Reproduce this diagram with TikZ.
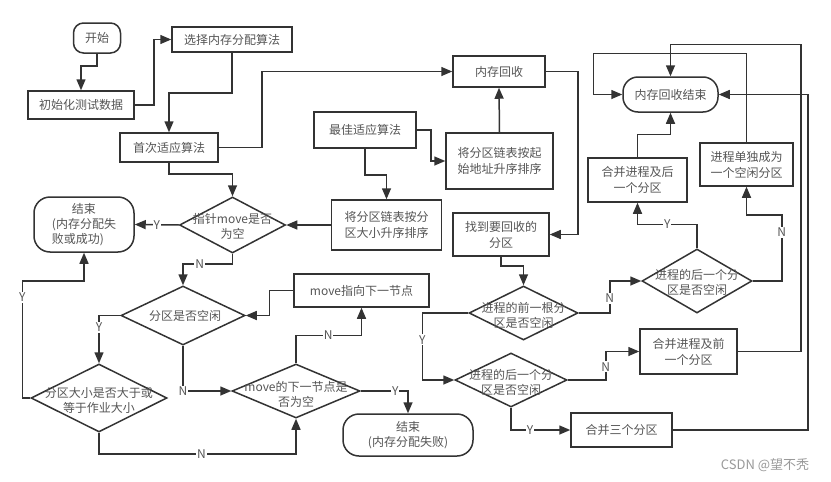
\documentclass[tikz,border=0pt]{standalone}
\usepackage{fontspec}
\setmainfont{Noto Sans CJK SC}
\usetikzlibrary{shapes.geometric,arrows.meta}
\definecolor{ln}{HTML}{333333}
\definecolor{tx}{HTML}{555555}
\begin{document}
\begin{tikzpicture}[x=1pt,y=-1pt,
  every node/.style={font=\fontsize{12}{16}\selectfont, text=tx},
  box/.style n args={2}{draw=ln,line width=1.5pt,rectangle,minimum width=#1pt,minimum height=#2pt,align=center,inner sep=1pt},
  rbox/.style n args={3}{draw=ln,line width=1.5pt,rectangle,rounded corners=#3pt,minimum width=#1pt,minimum height=#2pt,align=center,inner sep=1pt},
  dia/.style n args={2}{draw=ln,line width=1.5pt,diamond,minimum width=#1pt,minimum height=#2pt,inner sep=0pt},
  dtext/.style={align=center,inner sep=0pt,font=\fontsize{12}{15}\selectfont},
  arr/.style={draw=ln,line width=1.5pt,-{Triangle[length=11pt,width=9pt]}},
  lab/.style={fill=white,inner sep=1pt,text=tx}]
\fill[white] (0,0) rectangle (831,482);
\useasboundingbox (0,0) rectangle (831,482);

% boxes
\node[rbox={47}{30}{10}] (start) at (97,38) {开始};
\node[box={106}{28}] (init) at (81,105) {初始化测试数据};
\node[box={120}{25}] (select) at (232,39.5) {选择内存分配算法};
\node[box={98}{29}] (ff) at (169,147.5) {首次适应算法};
\node[box={102}{36}] (bf) at (365,130) {最佳适应算法};
\node[box={107}{56}] (sortaddr) at (499.5,161) {将分区链表按起\\始地址升序排序};
\node[box={110}{50}] (sortsize) at (386.5,225) {将分区链表按分\\区大小升序排序};
\node[box={92}{31}] (recl) at (499,71.5) {内存回收};
\node[box={96}{43}] (find) at (501,234.5) {找到要回收的\\分区};
\node[rbox={95}{35}{15}] (recend) at (670.5,94.5) {内存回收结束};
\node[box={99}{44}] (mergenext) at (637.5,180) {合并进程及后\\一个分区};
\node[box={93}{43}] (alone) at (746.5,164.5) {进程单独成为\\一个空闲分区};
\node[box={97}{45}] (mergeprev) at (688.5,351.5) {合并进程及前\\一个分区};
\node[box={101}{34}] (merge3) at (621.5,430) {合并三个分区};
\node[rbox={100}{55}{16}, font=\fontsize{12}{15}\selectfont] (end1) at (84,224.5) {结束\\(内存分配失\\败或成功)\hphantom{失}};
\node[rbox={130}{42}{16}, font=\fontsize{12}{15}\selectfont] (end2) at (408,435) {结束\\(内存分配失败)};
\node[box={135}{33}] (movenext) at (361.5,290.5) {move指向下一节点};

% diamonds
\node[dia={106}{56}] (d1) at (232.5,225) {};
\node[dtext] (d1t) at (232.5,226) {指针move是否\\为空};
\node[dia={124}{59}] (d2) at (183,315.5) {};
\node[dtext] (d2t) at (185,316) {分区是否空闲};
\node[dia={136}{68}] (d3) at (99,398) {};
\node[dtext] (d3t) at (99,400) {分区大小是否大于或\\等于作业大小};
\node[dia={128}{54}] (d4) at (296,391) {};
\node[dtext] (d4t) at (296,394) {move的下一节点是\\否为空};
\node[dia={109}{54}] (d5) at (523.5,313) {};
\node[dtext] (d5t) at (523.5,315) {进程的前一根分\\区是否空闲};
\node[dia={110}{64}] (d6) at (697,281) {};
\node[dtext] (d6t) at (697,282) {进程的后一个分\\区是否空闲};
\node[dia={112}{54}] (d7) at (511,380) {};
\node[dtext] (d7t) at (511,382) {进程的后一个分\\区是否空闲};

% credit
\node[text=gray!80, font=\fontsize{13}{15}\selectfont] (credit) at (765,465) {CSDN @望不秃};

% connectors
\draw[arr] (start.south) -- ++(0,12) -| (init.north);
\draw[arr] (init.east) -- ++(19,0) |- (select.west);
\draw[arr] (select.south) -- ++(0,40) -| (ff.north);
\draw[arr] (ff.east) -- ++(43,0) |- (recl.west);
\draw[arr] (ff.south) -- ++(0,11) -| (d1.north);
\draw[arr] (bf.east) -- ++(14,0) |- (sortaddr.west);
\draw[arr] (bf.south) -- ++(0,26) -| (sortsize.north);
\draw[arr] (sortaddr.north) -- (recl.south);
\draw[arr] (sortsize.west) -- (d1.east);
\draw[arr] (recl.east) -- ++(32,0) |- (find.east);

\draw[arr] (d1.west) -- node[lab]{Y} (end1.east);
\draw[arr] (d1.south) -- ++(0,10) -| node[lab,pos=0.33]{N} (d2.north);
\draw[arr] (d2.west) -| node[lab,pos=0.625]{Y} (d3.north);
\draw[arr] (d3.west) -- ++(-8,0) -- ++(0,-117) node[lab,pos=0.86]{Y} -| (end1.south);
\draw[arr] (d3.south) -- ++(0,21) -| node[lab,pos=0.26]{N} (d4.south);
\draw[arr] (d2.south) |- node[lab,pos=0.5]{N} (d4.west);
\draw[arr] (movenext.west) -- ++(-24,0) |- (d2.east);
\draw[arr] (d4.north) -- ++(0,-28) -| node[lab,pos=0.245]{N} (movenext.south);
\draw[arr] (d4.east) -| node[lab,pos=0.365]{Y} (end2.north);

\draw[arr] (find.south) -- ++(0,9) -| (d5.north);
\draw[arr] (d5.east) -- ++(31,0) |- node[lab,pos=0.23]{N} (d6.west);
\draw[arr] (d5.west) -- ++(-46,0) |- node[lab,pos=0.2]{Y} (d7.west);
\draw[arr] (d7.east) -- ++(38,0) |- node[lab,pos=0.23]{N} (mergeprev.west);
\draw[arr] (d7.south) |- node[lab,pos=0.66]{Y} (merge3.west);
\draw[arr] (d6.north) -- ++(0,-24) -| node[lab,pos=0.25]{Y} (mergenext.south);
\draw[arr] (d6.east) -- ++(29,0) -- ++(0,-66) node[lab,pos=0.74]{N} -| (alone.south);

\draw[arr] (mergenext.north) -- ++(0,-23) -| (recend.south);
\draw[arr] (alone.north) -- ++(0,-89) -- ++(-153,0) |- (recend.west);
\draw[arr] (mergeprev.east) -- ++(63,0) -- ++(0,-307) -| (recend.north);
\draw[arr] (merge3.east) -- ++(135,0) |- (recend.east);
\end{tikzpicture}
\end{document}
